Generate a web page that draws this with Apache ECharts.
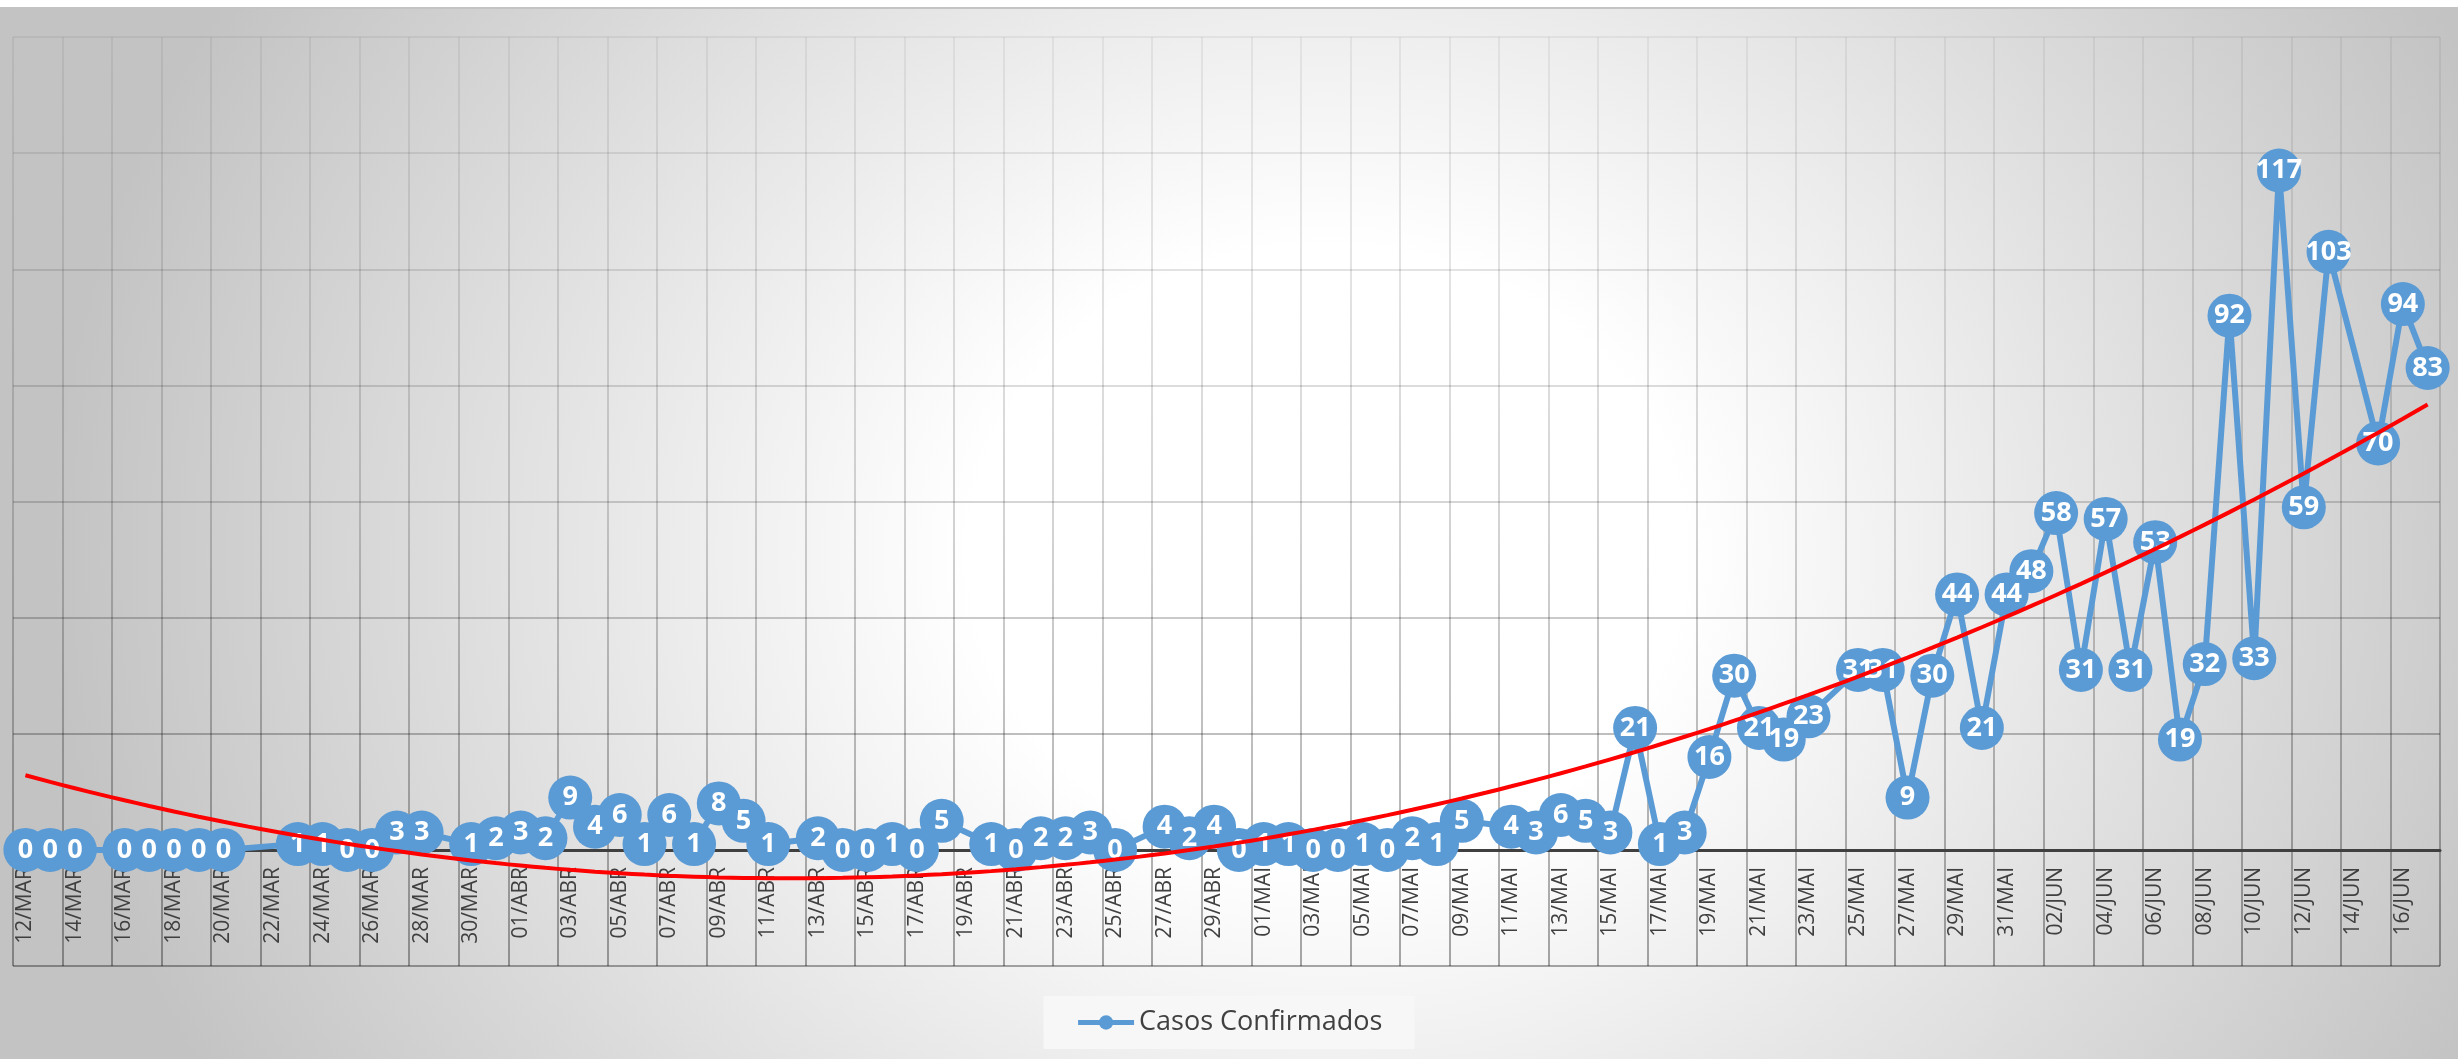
<!DOCTYPE html>
<html>
<head>
<meta charset="utf-8">
<script src="https://cdn.jsdelivr.net/npm/echarts@6/dist/echarts.min.js"></script>
<style>
    html, body { margin: 0; padding: 0; background: #ffffff; }
    #fundo {
        position: absolute; left: 0; top: 7px; width: 2458px; height: 1050px;
        border-top: 2px solid #c4c4c4;
        background: radial-gradient(ellipse 52% 105% at 54% 52%, #ffffff 0%, #ffffff 28%, #c3c3c3 100%);
    }
    #main { position: absolute; left: 0; top: 0; width: 2458px; height: 1059px; }
</style>
</head>
<body>
<div id="fundo"></div>
<div id="main"></div>
<script>
// meses do eixo X (dia inicial / final de cada mes)
var mesesNome = ['MAR', 'ABR', 'MAI', 'JUN'];
var mesesInicio = [12, 1, 1, 1];
var mesesFim = [31, 30, 31, 17];

// casos confirmados por dia (null = sem registro)
var casosMar = [0,0,0,null,0,0,0,0,0,null,null,1,1,0,0,3,3,null,1,2];
var casosAbr = [3,2,9,4,6,1,6,1,8,5,1,null,2,0,0,1,0,5,null,1,0,2,2,3,0,null,4,2,4,0];
var casosMai = [1,1,0,0,1,0,2,1,5,null,4,3,6,5,3,21,1,3,16,30,21,19,23,null,31,31,9,30,44,21,44];
var casosJun = [48,58,31,57,31,53,19,32,92,33,117,59,103,null,70,94,83];

// escala do eixo Y
var yMin = -20, yMax = 140, yPasso = 20;

var dias = [];
for (var m = 0; m < mesesNome.length; m++) {
    for (var d = mesesInicio[m]; d <= mesesFim[m]; d++) {
        dias.push((d < 10 ? '0' + d : '' + d) + '/' + mesesNome[m]);
    }
}
var casos = casosMar.concat(casosAbr, casosMai, casosJun);

// linha de tendencia polinomial (ordem 2) por minimos quadrados
function tendencia(valores) {
    var s = [0, 0, 0, 0, 0], t = [0, 0, 0];
    valores.forEach(function (v, i) {
        if (v === null) return;
        var p = 1;
        for (var k = 0; k < 5; k++) { s[k] += p; if (k < 3) t[k] += v * p; p *= i; }
    });
    var A = [[s[0], s[1], s[2], t[0]], [s[1], s[2], s[3], t[1]], [s[2], s[3], s[4], t[2]]];
    for (var c = 0; c < 3; c++) {
        for (var r = c + 1; r < 3; r++) {
            var f = A[r][c] / A[c][c];
            for (var j = c; j < 4; j++) A[r][j] -= f * A[c][j];
        }
    }
    var x = [0, 0, 0];
    for (var r2 = 2; r2 >= 0; r2--) {
        var soma = A[r2][3];
        for (var j2 = r2 + 1; j2 < 3; j2++) soma -= A[r2][j2] * x[j2];
        x[r2] = soma / A[r2][r2];
    }
    return valores.map(function (v, i) { return +(x[0] + x[1] * i + x[2] * i * i).toFixed(2); });
}

var corGrade = new echarts.graphic.LinearGradient(0, 37, 0, 966, [
    {offset: 0, color: 'rgba(0,0,0,0.07)'},
    {offset: 0.5, color: 'rgba(0,0,0,0.22)'},
    {offset: 1, color: 'rgba(0,0,0,0.45)'}
], true);

var myChart = echarts.init(document.getElementById('main'));
var option = {
    animation: false,
    backgroundColor: 'transparent',
    grid: {left: 13, right: 18, top: 37, bottom: 93, containLabel: false},
    legend: {
        data: ['Casos Confirmados'],
        bottom: 10,
        left: 'center',
        backgroundColor: '#f7f7f7',
        padding: [13, 32, 13, 32],
        itemWidth: 56,
        itemHeight: 18,
        lineStyle: {width: 5},
        textStyle: {color: '#404040', fontSize: 27, fontFamily: 'Open Sans'}
    },
    xAxis: {
        type: 'category',
        data: dias,
        boundaryGap: true,
        axisLine: {onZero: true, lineStyle: {color: '#404040', width: 3}},
        axisTick: {show: false},
        axisLabel: {
            interval: 1, rotate: 90, margin: -99,
            color: '#404040', fontSize: 21, fontFamily: 'Open Sans'
        },
        splitLine: {show: true, interval: 1, lineStyle: {color: corGrade, width: 1.5}}
    },
    yAxis: {
        type: 'value',
        min: yMin, max: yMax, interval: yPasso,
        axisLabel: {show: false},
        axisLine: {show: false},
        axisTick: {show: false},
        splitLine: {show: true, lineStyle: {color: corGrade, width: 1.5}}
    },
    series: [
        {
            name: 'Casos Confirmados',
            type: 'line',
            data: casos,
            connectNulls: true,
            symbol: 'circle',
            symbolSize: 44,
            showAllSymbol: true,
            itemStyle: {color: '#5b9bd5'},
            lineStyle: {color: '#5b9bd5', width: 6},
            label: {
                show: true, position: 'inside', formatter: '{c}',
                color: '#ffffff', fontSize: 27, fontWeight: 'bold', fontFamily: 'Open Sans'
            },
            z: 2
        },
        {
            name: 'Tendência',
            type: 'line',
            data: tendencia(casos),
            showSymbol: false,
            smooth: true,
            lineStyle: {color: '#ff0000', width: 4},
            silent: true,
            z: 3
        }
    ]
};
myChart.setOption(option);
</script>
</body>
</html>
